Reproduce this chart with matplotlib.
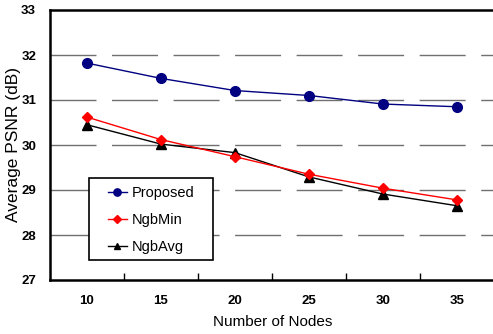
import matplotlib
matplotlib.use("Agg")
import matplotlib.pyplot as plt
from matplotlib.patches import Rectangle
import numpy as np

nodes = [10, 15, 20, 25, 30, 35]
proposed = [31.82, 31.48, 31.21, 31.10, 30.91, 30.85]
ngbmin = [30.62, 30.12, 29.74, 29.35, 29.04, 28.78]
ngbavg = [30.45, 30.02, 29.83, 29.29, 28.91, 28.65]
yticks = [27, 28, 29, 30, 31, 32, 33]

plt.rcParams['font.family'] = ['Liberation Sans', 'DejaVu Sans']

W, H = 493, 334
fig = plt.figure(figsize=(W / 100, H / 100), dpi=100)
ax = fig.add_axes([50 / W, 54 / H, 444 / W, 270 / H])

xpos = np.arange(len(nodes))
ax.plot(xpos, proposed, color='#000080', marker='o', markersize=7, lw=1.0, label='Proposed', zorder=5)
ax.plot(xpos, ngbmin, color='#ff0000', marker='D', markersize=5.5, lw=1.0, label='NgbMin', zorder=4)
ax.plot(xpos, ngbavg, color='black', marker='^', markersize=6.5, lw=1.0, label='NgbAvg', zorder=3)

ax.set_xlim(-0.5, len(nodes) - 0.5)
ax.set_ylim(27, 33)
ax.set_yticks(yticks)
ax.set_xticks(xpos)
ax.set_xticklabels([str(n) for n in nodes])
ax.set_xticks(np.arange(0.5, len(nodes) - 0.5, 1), minor=True)
ax.tick_params(axis='x', which='major', length=0, pad=11, labelsize=9.5)
ax.tick_params(axis='x', which='minor', length=5, direction='in', width=1)
ax.tick_params(axis='y', length=0, pad=10, labelsize=9.5)
for lab in ax.get_xticklabels() + ax.get_yticklabels():
    lab.set_fontweight('bold')

for y in yticks[1:-1]:
    ax.axhline(y, color='#707070', lw=1.0, dashes=(33.1, 11.2), zorder=1)

for s in ax.spines.values():
    s.set_linewidth(1.8)
    s.set_color('black')

fig.text(273 / W, 1 - 322 / H, 'Number of Nodes', fontsize=11, ha='center', va='center')
fig.text(14 / W, 1 - 145 / H, 'Average PSNR (dB)', fontsize=12.5, ha='center', va='center', rotation=90)

# legend box
x0, x1, y0, y1 = 89, 213, 178, 260
rect = Rectangle(((x0 - 50) / 444, (280 - y1) / 270), (x1 - x0) / 444, (y1 - y0) / 270,
                 transform=ax.transAxes, facecolor='white', edgecolor='black', lw=1.2, zorder=6)
ax.add_patch(rect)
leg = ax.legend(loc='center', bbox_to_anchor=(((x0 + x1) / 2 - 50) / 444, (280 - (y0 + y1) / 2) / 270 - 0.004),
                frameon=False, fontsize=10.5, handlelength=1.35, borderpad=0.2,
                labelspacing=0.88, handletextpad=0.3, markerscale=0.75)
leg.set_zorder(7)

fig.savefig('out.png', dpi=100)
